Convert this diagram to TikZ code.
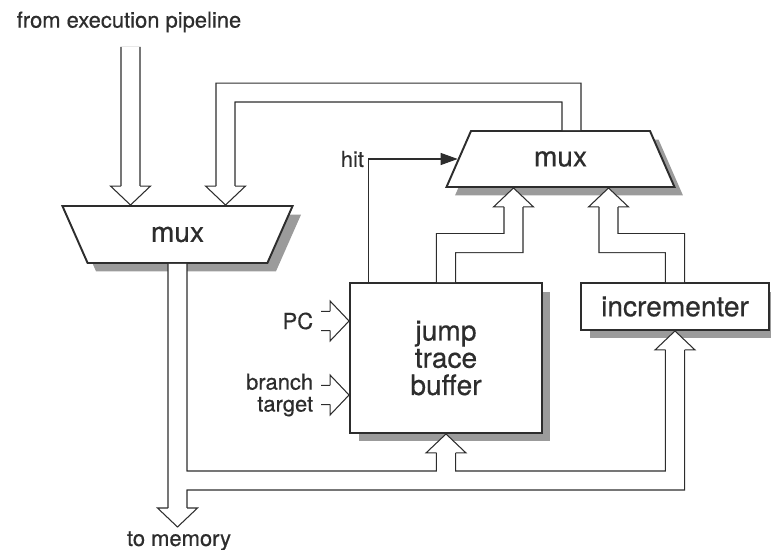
\documentclass[tikz,border=0pt]{standalone}
\usepackage{fontspec}
\setmainfont{TeX Gyre Heros}[FakeBold=0.5]
\usetikzlibrary{shapes.geometric, arrows.meta, calc, shadows}
\definecolor{tinta}{RGB}{45,45,45}
\definecolor{sombra}{RGB}{155,155,155}

\begin{document}
\begin{tikzpicture}[x=0.02cm, y=-0.02cm,
    caja/.style={rectangle, draw=tinta, line width=1.1pt, fill=white, text=tinta, align=center, font=\fontsize{16}{15.5}\selectfont, drop shadow={shadow xshift=0.17cm, shadow yshift=-0.17cm, fill=sombra, opacity=1}},
    selector/.style={caja, trapezium, trapezium stretches=true},
    etiqueta/.style={text=tinta, inner sep=2pt, align=right, font=\fontsize{12.5}{12.5}\selectfont},
    flecha/.style={-{Triangle[length=0.34cm, width=0.24cm]}, line width=0.6pt, tinta},
    punta/.pic={
        \fill[white] (-20,19) -- (0,0) -- (20,19) -- cycle;
        \draw[line width=0.6pt, tinta] (-9.5,19) -- (-20,19) -- (0,0) -- (20,19) -- (9.5,19);
    }]

    \useasboundingbox (0,0) rectangle (771,550);

    % bloques
    \node[selector, trapezium left angle=108.4, trapezium right angle=108.4, minimum width=4.62cm, minimum height=1.14cm] (muxizq) at (177.5,234.5) {mux};
    \node[selector, trapezium left angle=72, trapezium right angle=72, minimum width=4.58cm, minimum height=1.12cm] (muxsup) at (560.5,159) {mux};
    \node[caja, minimum width=3.84cm, minimum height=3cm] (jtb) at (446,358) {jump\\trace\\buffer};
    \node[caja, minimum width=3.76cm, minimum height=0.94cm] (inc) at (675,306.5) {incrementer};

    % textos
    \node[etiqueta] (origen) at (129,22) {from execution pipeline};
    \node[etiqueta] (destino) at (179,541) {to memory};
    \node[etiqueta, anchor=east] (pc) at (317,321) {PC};
    \node[etiqueta, anchor=east] (rama) at (317,395) {branch\\target};

    \coordinate (entrada) at (130.5,47);
    \coordinate (memoria) at (177.5,527);
    \coordinate (cruce) at (177.5,480.5);

    % buses: primero el borde, luego el interior
    \foreach \ancho/\tono in {11.41pt/tinta, 10.21pt/white}{
        \draw[line width=\ancho, draw=\tono]
            (entrada) -- ($(muxizq.north)+(-47,-19)$)
            ($(muxsup.north)+(11,0)$) -- ++(0,-37.5) -| ($(muxizq.north)+(48,-19)$)
            (jtb.north) -- ++(0,-39) -| ($(muxsup.south)+(-47,19)$)
            (inc.north) -- ++(0,-39) -| ($(muxsup.south)+(48,19)$)
            (muxizq.south) -- ($(memoria)+(0,-19)$)
            (cruce) -| ($(inc.south)+(0,19)$)
            (jtb.south |- cruce) -- ($(jtb.south)+(0,19)$)
            ($(pc.east)+(4,0)$) -- ($(jtb.west |- pc.east)+(-19,0)$)
            ($(rama.east)+(4,0)$) -- ($(jtb.west |- rama.east)+(-19,0)$);
    }

    \pic[rotate=180] at ($(muxizq.north)+(-47,0)$) {punta};
    \pic[rotate=180] at ($(muxizq.north)+(48,0)$) {punta};
    \pic at ($(muxsup.south)+(-47,0)$) {punta};
    \pic at ($(muxsup.south)+(48,0)$) {punta};
    \pic at (jtb.south) {punta};
    \pic at (inc.south) {punta};
    \pic[rotate=180] at (memoria) {punta};
    \pic[rotate=-90] at (jtb.west |- pc.east) {punta};
    \pic[rotate=-90] at (jtb.west |- rama.east) {punta};

    \draw[flecha] ($(jtb.north west)+(19,0)$) |- node[etiqueta, pos=0.5, left] (hit) {hit} (muxsup.west);
\end{tikzpicture}
\end{document}
